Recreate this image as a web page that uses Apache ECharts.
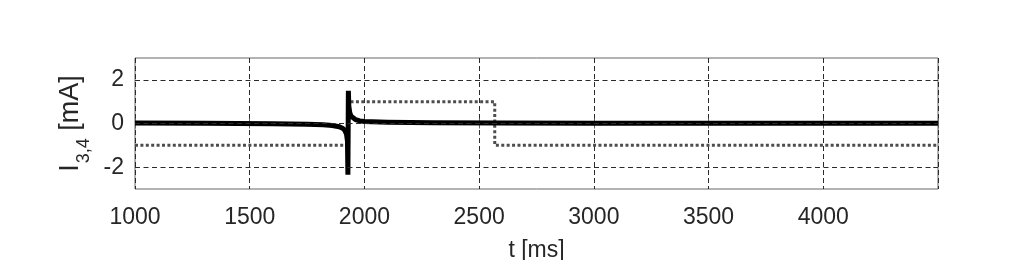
<!DOCTYPE html>
<html>
<head>
<meta charset="utf-8">
<script src="https://cdn.jsdelivr.net/npm/echarts@6/dist/echarts.min.js"></script>
<style>html,body{margin:0;padding:0;background:#fff;}#c{width:1036px;height:260px;}</style>
</head>
<body>
<div id="c"></div>
<script>
// x tick labels
var xTicks = [1000, 1500, 2000, 2500, 3000, 3500, 4000];
var yTicks = [-2, 0, 2];
// I3 (solid black)
var tI3 = [1000, 1300, 1600, 1750, 1820, 1860, 1890, 1905, 1915, 1922, 1926, 1928, 1930, 1932, 1936, 1942, 1950, 1962, 1980, 2000, 2100, 2300, 2600, 3000, 4500];
var vI3 = [0.02, 0.01, -0.01, -0.03, -0.06, -0.09, -0.15, -0.22, -0.32, -0.5, -0.8, -2.35, 1.5, 0.8, 0.5, 0.33, 0.24, 0.17, 0.12, 0.09, 0.06, 0.04, 0.02, 0.01, 0.01];
// I4 (dotted gray)
var tI4 = [1000, 1931, 1931, 2568, 2568, 4500];
var vI4 = [-1, -1, 1, 1, -1, -1];

var FONT = "'Liberation Sans', Arial, sans-serif";
var TXT = '#262626';
var BOX = '#666666';
var GRIDC = '#2a2a2a';

function pairs(t, v) { return t.map(function (x, i) { return [x, v[i]]; }); }

var chart = echarts.init(document.getElementById('c'), null, { renderer: 'canvas' });
chart.setOption({
  animation: false,
  backgroundColor: '#ffffff',
  grid: { left: 135, right: 98, top: 58, bottom: 71, show: true, borderColor: BOX, borderWidth: 1, backgroundColor: 'transparent', containLabel: false, outerBoundsMode: 'none' },
  xAxis: [{
    type: 'value', min: 1000, max: 4500, interval: 500,
    name: 't [ms]', nameLocation: 'middle', nameGap: 50,
    nameTextStyle: { fontFamily: FONT, fontSize: 23, color: TXT },
    axisLine: { show: false },
    axisTick: { show: true, inside: true, length: 5, lineStyle: { color: BOX } },
    axisLabel: {
      fontFamily: FONT, fontSize: 23, color: TXT, margin: 17,
      customValues: xTicks,
      formatter: function (v) { return xTicks.indexOf(v) >= 0 ? String(v) : ''; }
    },
    splitLine: { show: true, lineStyle: { color: GRIDC, type: [5, 3], width: 1 } }
  }, {
    type: 'value', min: 1000, max: 4500, interval: 500, position: 'top',
    axisLine: { show: false },
    axisTick: { show: true, inside: true, length: 5, lineStyle: { color: BOX } },
    axisLabel: { show: false }, splitLine: { show: false }
  }],
  yAxis: [{
    type: 'value', min: -3, max: 3, interval: 1,
    name: '{n|I}{s|3,4}{n| [mA]}', nameLocation: 'middle', nameGap: 45, nameRotate: 90,
    nameTextStyle: {
      fontFamily: FONT, color: TXT,
      rich: {
        n: { fontFamily: FONT, fontSize: 27, color: TXT, lineHeight: 27, verticalAlign: 'top' },
        s: { fontFamily: FONT, fontSize: 18, color: TXT, lineHeight: 18, padding: [18, 0, 0, 1], verticalAlign: 'top' }
      }
    },
    axisLine: { show: false },
    axisTick: { show: true, inside: true, length: 5, customValues: yTicks, lineStyle: { color: BOX } },
    axisLabel: {
      fontFamily: FONT, fontSize: 23, color: TXT, margin: 11,
      customValues: yTicks,
      formatter: function (v) { return yTicks.indexOf(v) >= 0 ? String(v) : ''; }
    },
    splitLine: { show: false }
  }, {
    type: 'value', min: -3, max: 3, interval: 1, position: 'right',
    axisLine: { show: false },
    axisTick: { show: true, inside: true, length: 5, customValues: yTicks, lineStyle: { color: BOX } },
    axisLabel: { show: false }, splitLine: { show: false }
  }],
  series: [{
    type: 'line', z: 1, data: [], silent: true,
    markLine: {
      silent: true, symbol: 'none', animation: false,
      label: { show: false },
      lineStyle: { color: GRIDC, type: [5, 3.5], width: 1 },
      data: yTicks.map(function (y) { return { yAxis: y }; })
    }
  }, {
    name: 'I4', type: 'line', z: 2, showSymbol: false, symbol: 'none',
    data: pairs(tI4, vI4),
    lineStyle: { color: '#4d4d4d', width: 3, type: [3, 2.4], cap: 'butt' }
  }, {
    name: 'I3', type: 'line', z: 3, showSymbol: false, symbol: 'none',
    data: pairs(tI3, vI3),
    lineStyle: { color: '#000000', width: 5, join: 'miter' }
  }]
});
</script>
</body>
</html>
